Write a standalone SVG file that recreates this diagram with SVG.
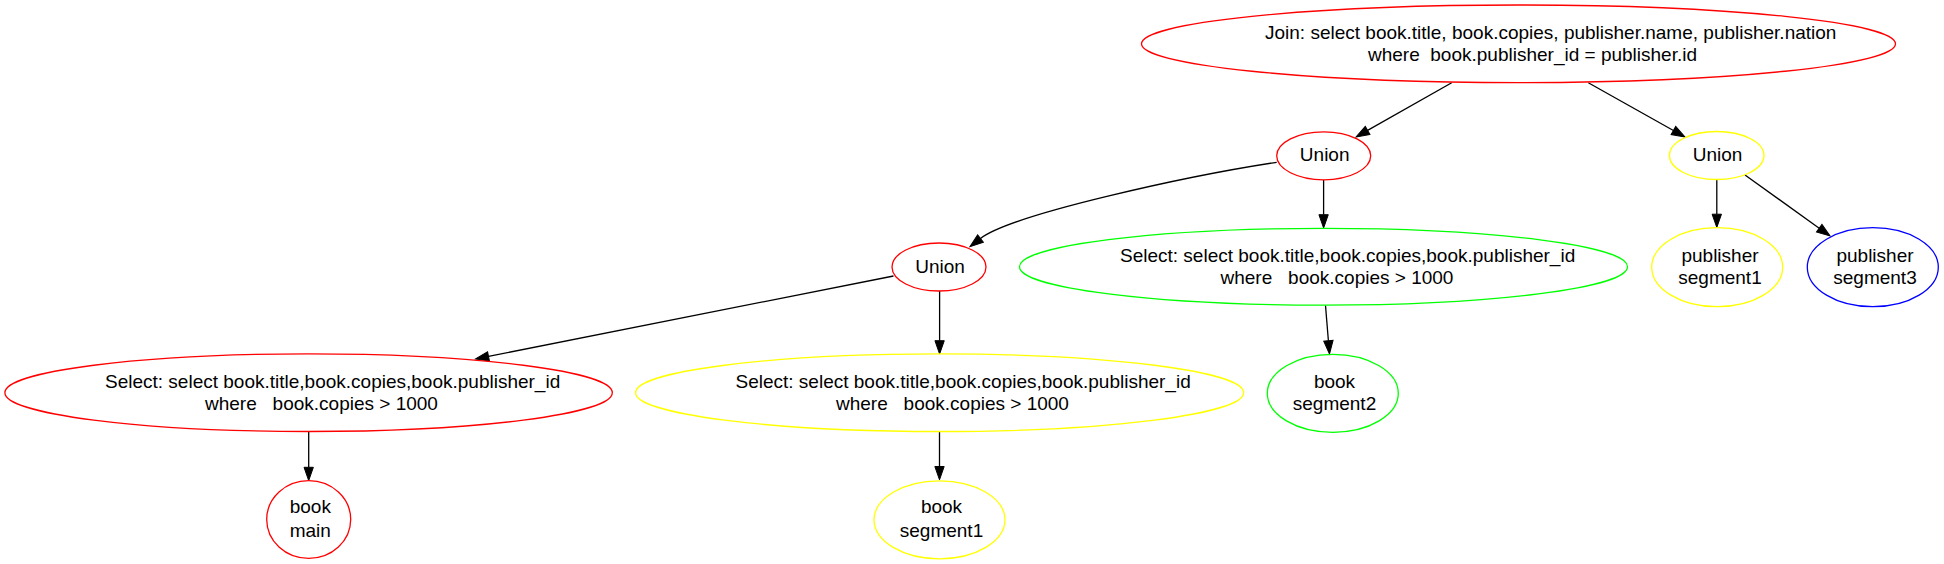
<svg xmlns="http://www.w3.org/2000/svg" width="1944" height="564" viewBox="0 0 1944 564">
<style>
  .node ellipse { fill: none; stroke-width: 1.3; }
  .red ellipse { stroke: #ff0000; }
  .yellow ellipse { stroke: #ffff00; }
  .green ellipse { stroke: #00ff00; }
  .blue ellipse { stroke: #0000ff; }
  text { font-family: "Liberation Sans", Arial, sans-serif; font-size: 19px; fill: #000; white-space: pre; }
  .c { text-anchor: middle; }
  .edges path { fill: none; stroke: #000; stroke-width: 1.3; }
</style>
<defs>
  <marker id="arrow" markerUnits="userSpaceOnUse" viewBox="0 -5 14 10" markerWidth="14" markerHeight="10" refX="0" refY="0" orient="auto" overflow="visible">
    <path d="M0,-4.67 L13.3,0 L0,4.67 Z" fill="#000" stroke="#000" stroke-width="1"/>
  </marker>
</defs>
<rect width="1944" height="564" fill="#fff"/>

<g class="edges" id="edges">
  <path d="M1451.7,82.7 L1367.6,130.4" marker-end="url(#arrow)"/>
  <path d="M1588.3,82.7 L1673.4,130.5" marker-end="url(#arrow)"/>
  <path d="M1276.7,162.3 C1190,175.5 1012,214 980.5,238.5" marker-end="url(#arrow)"/>
  <path d="M1323.6,180 L1323.6,214.7" marker-end="url(#arrow)"/>
  <path d="M1716.8,179.5 L1716.8,214.2" marker-end="url(#arrow)"/>
  <path d="M1745,175 L1819.2,228.2" marker-end="url(#arrow)"/>
  <path d="M893.5,276 L488.5,356.4" marker-end="url(#arrow)"/>
  <path d="M939.6,291 L939.6,340.7" marker-end="url(#arrow)"/>
  <path d="M1325.5,305.5 L1328.4,340.7" marker-end="url(#arrow)"/>
  <path d="M308.7,431.5 L308.7,467.3" marker-end="url(#arrow)"/>
  <path d="M939.5,431.5 L939.5,466.5" marker-end="url(#arrow)"/>
</g>

<g id="n_join" class="node red">
  <ellipse cx="1518.5" cy="43.8" rx="377" ry="38.8"/>
  <text x="1265" y="39.3" xml:space="preserve">Join: select book.title, book.copies, publisher.name, publisher.nation</text>
  <text x="1368" y="61" xml:space="preserve">where  book.publisher_id = publisher.id</text>
</g>

<g id="n_union1" class="node red">
  <ellipse cx="1323.7" cy="155.8" rx="47" ry="24"/>
  <text class="c" x="1324.7" y="161.3">Union</text>
</g>

<g id="n_union2" class="node yellow">
  <ellipse cx="1716.7" cy="155.5" rx="47.3" ry="24"/>
  <text class="c" x="1717.5" y="161">Union</text>
</g>

<g id="n_union3" class="node red">
  <ellipse cx="939" cy="267" rx="47" ry="24"/>
  <text class="c" x="940" y="272.5">Union</text>
</g>

<g id="n_select_green" class="node green">
  <ellipse cx="1323.5" cy="266.7" rx="304" ry="38.4"/>
  <text x="1120" y="261.7" xml:space="preserve">Select: select book.title,book.copies,book.publisher_id</text>
  <text x="1220.5" y="283.7" xml:space="preserve">where   book.copies &gt; 1000</text>
</g>

<g id="n_pub_seg1" class="node yellow">
  <ellipse cx="1717.2" cy="267.2" rx="65.5" ry="39.5"/>
  <text class="c" x="1720" y="261.7">publisher</text>
  <text class="c" x="1720" y="284">segment1</text>
</g>

<g id="n_pub_seg3" class="node blue">
  <ellipse cx="1872.8" cy="267.2" rx="65.5" ry="39.5"/>
  <text class="c" x="1875" y="261.7">publisher</text>
  <text class="c" x="1875" y="284">segment3</text>
</g>

<g id="n_select_red" class="node red">
  <ellipse cx="308.6" cy="392.7" rx="303.7" ry="38.8"/>
  <text x="105" y="388" xml:space="preserve">Select: select book.title,book.copies,book.publisher_id</text>
  <text x="205" y="410" xml:space="preserve">where   book.copies &gt; 1000</text>
</g>

<g id="n_select_yellow" class="node yellow">
  <ellipse cx="939.6" cy="392.7" rx="304" ry="38.8"/>
  <text x="735.5" y="388" xml:space="preserve">Select: select book.title,book.copies,book.publisher_id</text>
  <text x="836" y="410" xml:space="preserve">where   book.copies &gt; 1000</text>
</g>

<g id="n_book_seg2" class="node green">
  <ellipse cx="1332.8" cy="393.3" rx="65.5" ry="39"/>
  <text class="c" x="1334.5" y="387.7">book</text>
  <text class="c" x="1334.5" y="410">segment2</text>
</g>

<g id="n_book_main" class="node red">
  <ellipse cx="308.7" cy="519.5" rx="42" ry="38.8"/>
  <text class="c" x="310.3" y="513.3">book</text>
  <text class="c" x="310.3" y="536.7">main</text>
</g>

<g id="n_book_seg1" class="node yellow">
  <ellipse cx="939.5" cy="519.8" rx="65.5" ry="39"/>
  <text class="c" x="941.5" y="513.3">book</text>
  <text class="c" x="941.5" y="536.7">segment1</text>
</g>
</svg>
